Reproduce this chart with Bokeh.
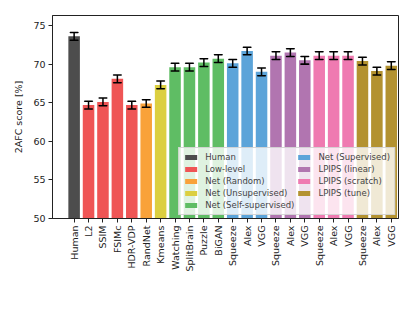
from bokeh.plotting import figure
from bokeh.models import ColumnDataSource, FixedTicker, Range1d, Legend, LegendItem
from bokeh.embed import file_html
from bokeh.resources import INLINE

labels = ["Human", "L2", "SSIM", "FSIMc", "HDR-VDP", "RandNet", "Kmeans",
          "Watching", "SplitBrain", "Puzzle", "BiGAN",
          "Squeeze", "Alex", "VGG",
          "Squeeze", "Alex", "VGG",
          "Squeeze", "Alex", "VGG",
          "Squeeze", "Alex", "VGG"]
scores = [73.6, 64.7, 65.1, 68.1, 64.7, 64.9, 67.3,
          69.6, 69.6, 70.2, 70.7,
          70.1, 71.7, 69.0,
          71.1, 71.5, 70.5,
          71.1, 71.1, 71.1,
          70.4, 69.1, 69.8]
errors = [0.5, 0.5, 0.5, 0.5, 0.5, 0.5, 0.5,
          0.5, 0.5, 0.5, 0.5,
          0.5, 0.5, 0.5,
          0.5, 0.5, 0.5,
          0.5, 0.5, 0.5,
          0.5, 0.5, 0.5]
groups = ["Human", "Low-level", "Low-level", "Low-level", "Low-level", "Net (Random)", "Net (Unsupervised)",
          "Net (Self-supervised)", "Net (Self-supervised)", "Net (Self-supervised)", "Net (Self-supervised)",
          "Net (Supervised)", "Net (Supervised)", "Net (Supervised)",
          "LPIPS (linear)", "LPIPS (linear)", "LPIPS (linear)",
          "LPIPS (scratch)", "LPIPS (scratch)", "LPIPS (scratch)",
          "LPIPS (tune)", "LPIPS (tune)", "LPIPS (tune)"]
group_names = ["Human", "Low-level", "Net (Random)", "Net (Unsupervised)", "Net (Self-supervised)",
               "Net (Supervised)", "LPIPS (linear)", "LPIPS (scratch)", "LPIPS (tune)"]
group_colors = ["#4d4d4d", "#ef5555", "#f9a23a", "#dccf40", "#5fbd64",
                "#5ca4d9", "#b175b0", "#ef7ab1", "#b39230"]

xs = list(range(len(labels)))

p = figure(width=408, height=304, output_backend="svg", toolbar_location=None,
           x_range=Range1d(-1.5, len(labels) - 0.5), y_range=Range1d(50, 76.3),
           min_border_left=52, min_border_right=10, min_border_top=15, min_border_bottom=86)

font = "DejaVu Sans"
items = []
for g, c in zip(group_names, group_colors):
    idx = [i for i, gg in enumerate(groups) if gg == g]
    src = ColumnDataSource(dict(x=[xs[i] for i in idx], top=[scores[i] for i in idx]))
    r = p.vbar(x="x", top="top", bottom=50, width=0.8, source=src,
               fill_color=c, line_color=None, fill_alpha=1.0)
    items.append(LegendItem(label=g, renderers=[r]))

esrc = ColumnDataSource(dict(x=xs, lo=[s - e for s, e in zip(scores, errors)],
                             hi=[s + e for s, e in zip(scores, errors)]))
p.segment(x0="x", y0="lo", x1="x", y1="hi", source=esrc, line_color="black", line_width=1.5)
p.rect(x="x", y="lo", width=0.55, height=0.001, source=esrc, line_color="black", line_width=1.5, fill_color=None)
p.rect(x="x", y="hi", width=0.55, height=0.001, source=esrc, line_color="black", line_width=1.5, fill_color=None)

legend = Legend(items=items, location="bottom_right", nrows=5, orientation="vertical",
                label_text_font=font, label_text_font_size="8.5px",
                glyph_width=15, glyph_height=6, label_height=8, label_standoff=7,
                spacing=2, padding=4, margin=3,
                background_fill_alpha=0.8, border_line_color="#cccccc", border_line_alpha=0.8)
p.add_layout(legend)

p.xgrid.visible = False
p.ygrid.visible = False
p.outline_line_color = "#222222"
p.outline_line_width = 1

p.xaxis.ticker = FixedTicker(ticks=xs)
p.xaxis.major_label_overrides = {i: l for i, l in enumerate(labels)}
p.xaxis.major_label_orientation = 1.5708
p.yaxis.ticker = FixedTicker(ticks=[50, 55, 60, 65, 70, 75])
p.yaxis.axis_label = "2AFC score [%]"
for ax in (p.xaxis, p.yaxis):
    ax.major_label_text_font = font
    ax.major_label_text_font_size = "9.5px"
    ax.major_tick_out = 4
    ax.major_tick_in = 0
    ax.minor_tick_out = 0
    ax.minor_tick_in = 0
    ax.axis_line_color = "#222222"
    ax.major_tick_line_color = "#222222"
    ax.major_label_text_color = "#222222"
p.yaxis.axis_label_text_font = font
p.yaxis.axis_label_text_font_size = "9.5px"
p.yaxis.axis_label_text_font_style = "normal"
p.yaxis.axis_label_text_color = "#222222"
p.yaxis.axis_label_standoff = 6
p.xaxis.major_label_standoff = 3
p.yaxis.major_label_standoff = 3

open("out.html", "w").write(file_html(p, INLINE))
